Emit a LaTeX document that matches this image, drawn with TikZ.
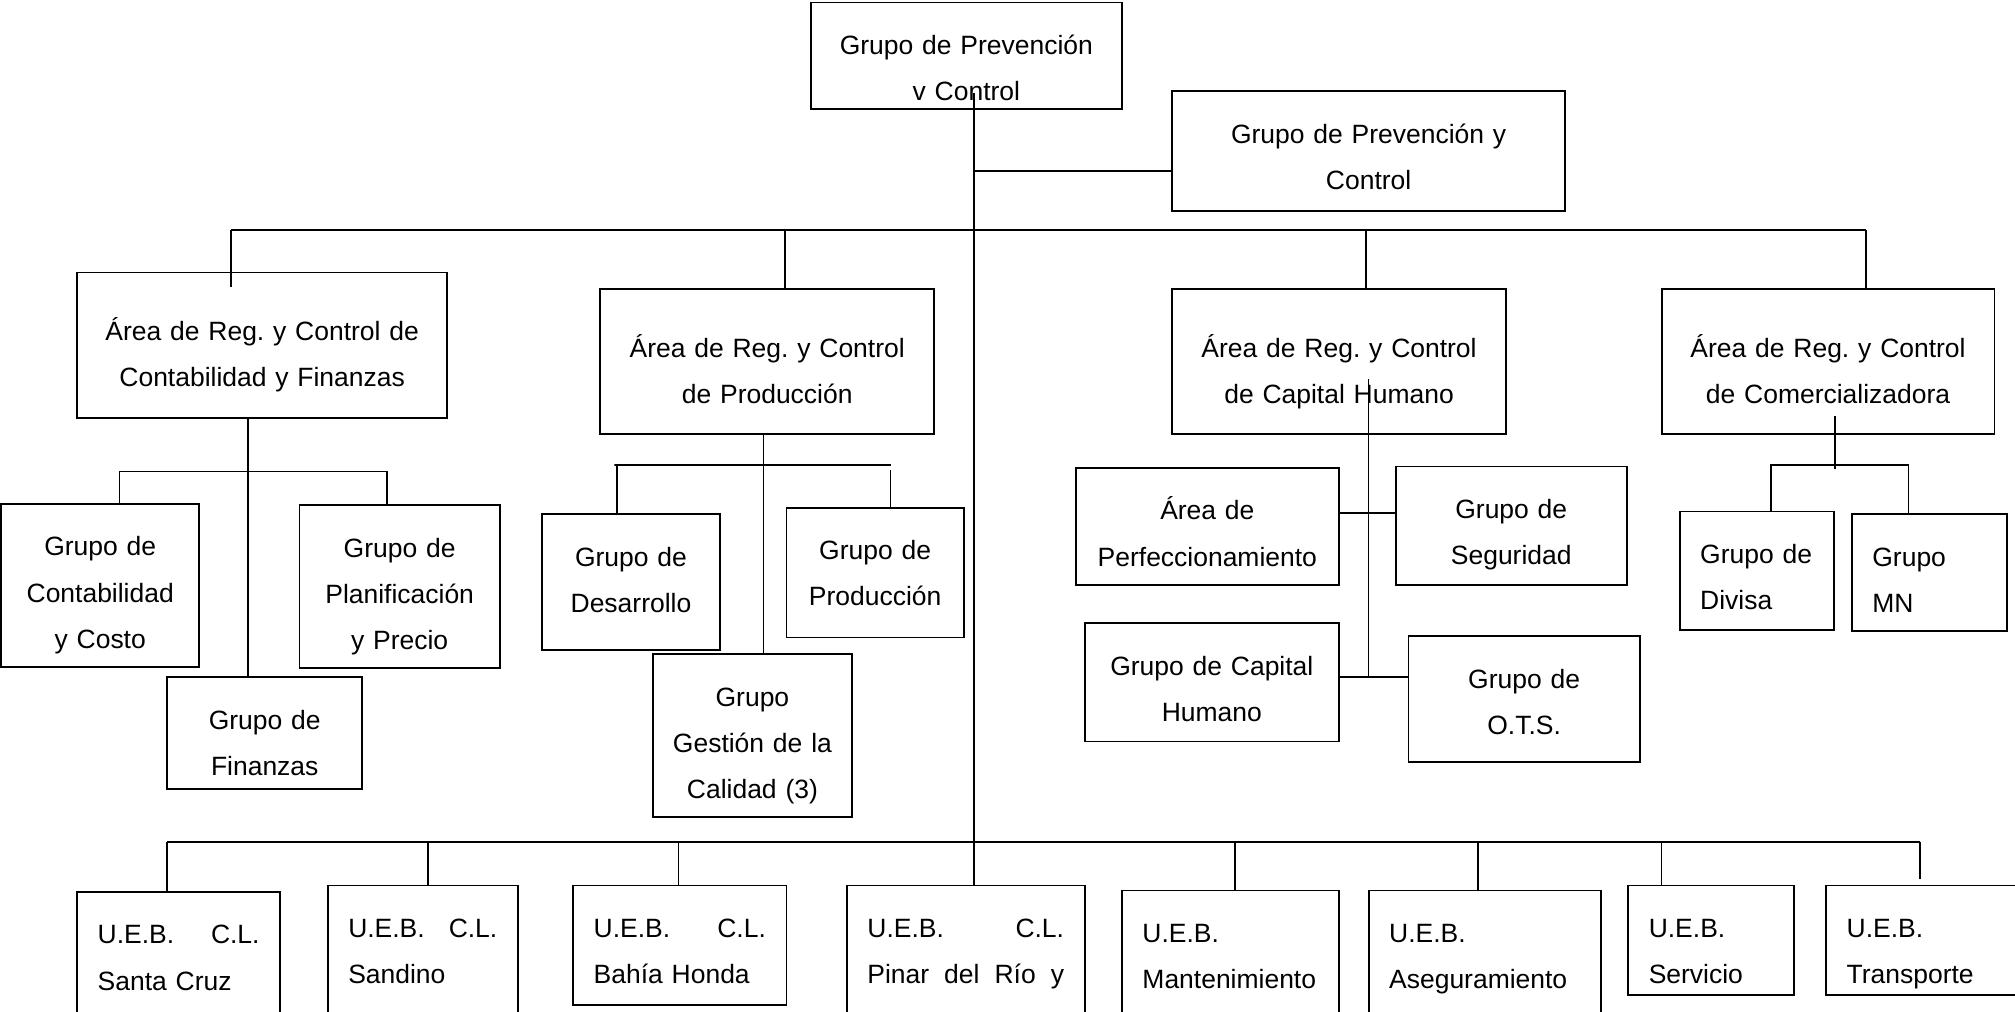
\documentclass[tikz,border=0pt]{standalone}
\usepackage{fontspec}
\setmainfont{Liberation Sans}
\usepackage{tikz}
\frenchspacing
\tikzstyle{box} = [rectangle, draw=black, line width=1.4pt, inner xsep=4pt, inner ysep=0pt, text height=40.5pt, align=center, font=\fontsize{20.6}{36}\selectfont]
\tikzstyle{area} = [box, text height=53pt]
\tikzstyle{lbox} = [box, inner xsep=16pt, align=left]
\tikzstyle{conn} = [line width=1.3pt]

\begin{document}
\begin{tikzpicture}[x=1pt, y=-1pt]
    \useasboundingbox (0,0) rectangle (1568,787);
    \node (prevA) [box, text width=234pt, text depth=42.5pt] at (752,43.5) {Grupo de Prevención\\v Control};
    \node (prevB) [box, text width=298pt, text depth=52.5pt] at (1065,117.5) {Grupo de Prevención y\\Control};
    \node (a1) [area, text width=280pt, text depth=60pt] at (204,268.5) {Área de Reg. y Control de\\Contabilidad y Finanzas};
    \node (a2) [area, text width=252pt, text depth=60pt] at (597,281.5) {Área de Reg. y Control\\de Producción};
    \node (a3) [area, text width=252pt, text depth=60pt] at (1042,281.5) {Área de Reg. y Control\\de Capital Humano};
    \node (a4) [area, text width=251pt, text depth=60pt] at (1422.5,281.5) {Área de Reg. y Control\\de Comercializadora};
    \node (g11) [box, text width=146pt, text depth=86.5pt] at (78,455.5) {Grupo de\\Contabilidad\\y Costo};
    \node (g12) [box, text width=148pt, text depth=86.5pt] at (311,456.5) {Grupo de\\Planificación\\y Precio};
    \node (g13) [box, text width=144pt, text depth=46.5pt] at (206,570.5) {Grupo de\\Finanzas};
    \node (g21) [box, text width=130pt, text depth=65.5pt] at (491,453) {Grupo de\\Desarrollo};
    \node (g22) [box, text width=130pt, text depth=60.5pt] at (681,445.5) {Grupo de\\Producción};
    \node (g23) [box, text width=147pt, text depth=86.5pt] at (585.5,572.5) {Grupo\\Gestión de la\\Calidad (3)};
    \node (g31) [box, text width=197pt, text depth=50.5pt] at (939.5,409.5) {Área de\\Perfeccionamiento};
    \node (g32) [box, text width=172pt, text depth=51.5pt] at (1176,409) {Grupo de\\Seguridad};
    \node (g33) [box, text width=190pt, text depth=51.5pt] at (943,531) {Grupo de Capital\\Humano};
    \node (g34) [box, text width=172pt, text depth=57.5pt] at (1186,544) {Grupo de\\O.T.S.};
    \node (g41) [lbox, text width=88pt, text depth=51.5pt] at (1367,444) {Grupo de\\Divisa};
    \node (g42) [lbox, text width=89pt, text depth=50.5pt] at (1501.5,445.5) {Grupo\\MN};
    \node (u1) [lbox, text width=126pt, text depth=61.5pt] at (139,745) {U.E.B.\hfill C.L.\\Santa Cruz};
    \node (u2) [lbox, text width=116pt, text depth=61.5pt] at (329,740) {U.E.B.\hfill C.L.\\Sandino};
    \node (u3) [lbox, text width=134pt, text depth=52.5pt] at (529,735.5) {U.E.B.\hfill C.L.\\Bahía Honda};
    \node (u4) [lbox, text width=153pt, text depth=61.5pt] at (751.5,740) {U.E.B.\hfill C.L.\\Pinar\hfill del\hfill Río\hfill y};
    \node (u5) [lbox, text width=137pt, text depth=61.5pt] at (957.5,744) {U.E.B.\\Mantenimiento};
    \node (u6) [lbox, text width=149pt, text depth=61.5pt] at (1155.5,744) {U.E.B.\\Aseguramiento};
    \node (u7) [lbox, text width=97pt, text depth=44.5pt] at (1331.5,731.5) {U.E.B.\\Servicio};
    \node (u8) [lbox, text width=137pt, text depth=44.5pt] at (1505.5,731.5) {U.E.B.\\Transporte};
    \coordinate (trunk) at (758,72);
    \coordinate (toB) at (758,133);
    \coordinate (barL) at (180,179);
    \coordinate (barR) at (1452,179);
    \coordinate (d1) at (180,223);
    \coordinate (d2) at (611,179);
    \coordinate (d3) at (1063,179);
    \coordinate (cfL) at (93,367);
    \coordinate (cfM) at (193,367);
    \coordinate (cfR) at (301,367);
    \coordinate (prL) at (480,362);
    \coordinate (prM) at (594,362);
    \coordinate (prR) at (693,362);
    \coordinate (chT) at (1065,295);
    \coordinate (chM) at (1065,399);
    \coordinate (chB) at (1065,527);
    \coordinate (coT) at (1428,324);
    \coordinate (coB) at (1428,365);
    \coordinate (dvL) at (1378,362);
    \coordinate (dvR) at (1485,362);
    \coordinate (uL) at (130,655);
    \coordinate (uR) at (1494,655);
    \coordinate (t2) at (333,655);
    \coordinate (t3) at (528,655);
    \coordinate (t5) at (961,655);
    \coordinate (t6) at (1150,655);
    \coordinate (t7) at (1293,655);
    \coordinate (t8) at (1494,684);
    \draw [conn] (trunk) -- (trunk |- u4.north);
    \draw [conn] (toB) -- (toB -| prevB.west);
    \draw [conn] (barL) -- (barR);
    \draw [conn] (barL) -- (d1);
    \draw [conn] (d2) -- (d2 |- a2.north);
    \draw [conn] (d3) -- (d3 |- a3.north);
    \draw [conn] (barR) -- (barR |- a4.north);
    \draw [conn] (cfM |- a1.south) -- (cfM |- g13.north);
    \draw [conn] (cfL |- g11.north) -- (cfL) -- (cfR) -- (cfR |- g12.north);
    \draw [conn] (prM |- a2.south) -- (prM |- g23.north);
    \draw [conn] (prL |- g21.north) -- (prL) -- ([xshift=-2pt]prL) -- (prR);
    \draw [conn] ([yshift=-4pt]prR) -- (prR |- g22.north);
    \draw [conn] (chT) -- (chB);
    \draw [conn] (chM -| g31.east) -- (chM -| g32.west);
    \draw [conn] (chB -| g33.east) -- (chB -| g34.west);
    \draw [conn] (coT) -- (coB);
    \draw [conn] (dvL |- g41.north) -- (dvL) -- (dvR) -- (dvR |- g42.north);
    \draw [conn] (uL) -- (uR);
    \draw [conn] (uL) -- (uL |- u1.north);
    \draw [conn] (t2) -- (t2 |- u2.north);
    \draw [conn] (t3) -- (t3 |- u3.north);
    \draw [conn] (t5) -- (t5 |- u5.north);
    \draw [conn] (t6) -- (t6 |- u6.north);
    \draw [conn] (t7) -- (t7 |- u7.north);
    \draw [conn] (uR) -- (t8);
\end{tikzpicture}
\end{document}
